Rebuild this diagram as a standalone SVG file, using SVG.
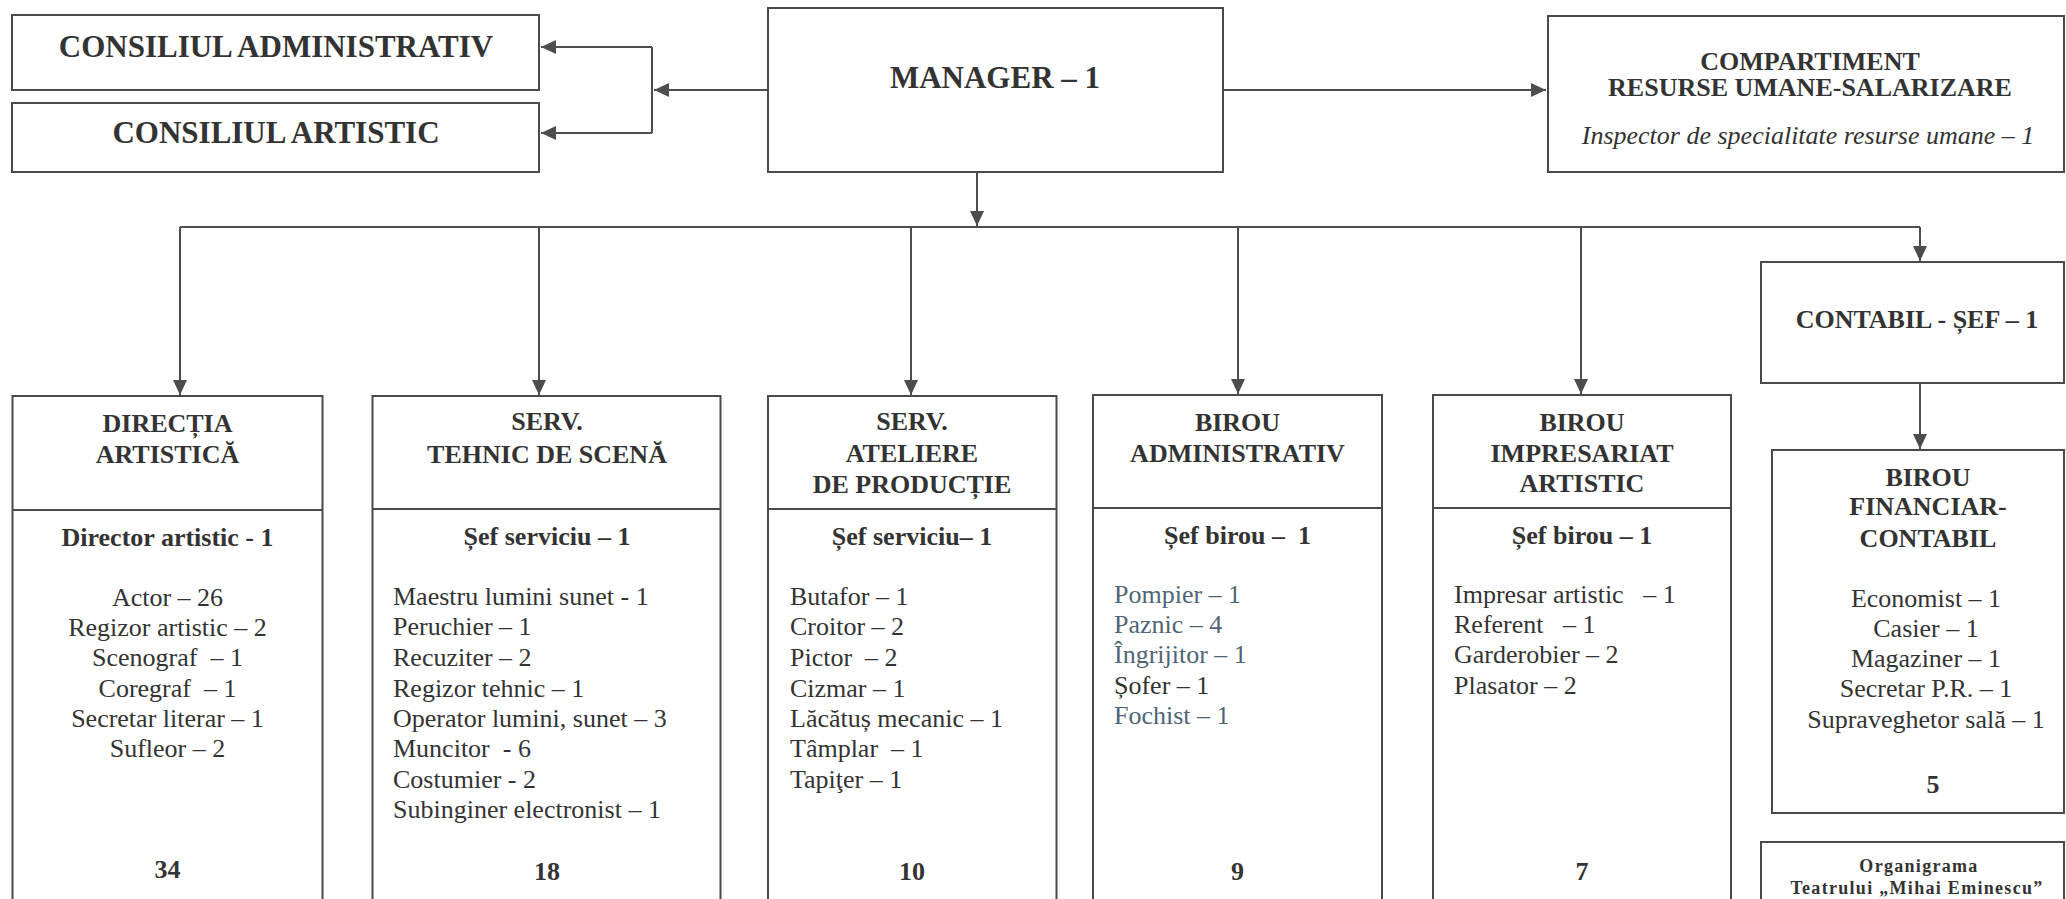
<svg xmlns="http://www.w3.org/2000/svg" width="2066" height="899" viewBox="0 0 2066 899">
<style>
  .box { fill: #ffffff; stroke: #4a4a4a; stroke-width: 2; }
  .div { stroke: #4a4a4a; stroke-width: 2; fill: none; }
  .con { stroke: #4d4d4d; stroke-width: 2; fill: none; }
  .arr { stroke: #4d4d4d; stroke-width: 2; fill: none; marker-end: url(#ah); }
  text { font-family: "Liberation Serif", "Times New Roman", serif; fill: #333333; white-space: pre; }
  .big { font-size: 31px; font-weight: bold; text-anchor: middle; }
  .hb { font-size: 26px; font-weight: bold; text-anchor: middle; }
  .r { font-size: 26px; }
  .rc { font-size: 26px; text-anchor: middle; }
  .it { font-size: 26px; font-style: italic; text-anchor: middle; }
  .org { font-size: 18px; font-weight: bold; text-anchor: middle; letter-spacing: 1.3px; }
  .blue { fill: #4f6577; }
</style>
<defs>
  <marker id="ah" markerUnits="userSpaceOnUse" markerWidth="16" markerHeight="14" refX="15" refY="7" orient="auto">
    <path d="M0,0 L15,7 L0,14 z" fill="#4d4d4d"/>
  </marker>
</defs>
<rect x="0" y="0" width="2066" height="899" fill="#ffffff"/>

<g id="connectors">
  <path class="arr" d="M768,90 L654,90"/>
  <path class="con" d="M652,47 L652,133"/>
  <path class="arr" d="M652,47 L541,47"/>
  <path class="arr" d="M652,133 L541,133"/>
  <path class="arr" d="M1223,90 L1546,90"/>
  <path class="arr" d="M977,172 L977,226"/>
  <path class="con" d="M180,227 L1920,227"/>
  <path class="arr" d="M180,227 L180,395"/>
  <path class="arr" d="M539,227 L539,395"/>
  <path class="arr" d="M911,227 L911,395"/>
  <path class="arr" d="M1238,227 L1238,394"/>
  <path class="arr" d="M1581,227 L1581,394"/>
  <path class="arr" d="M1920,227 L1920,261"/>
  <path class="arr" d="M1920,383 L1920,449"/>
</g>

<g id="consiliul-administrativ">
  <rect class="box" x="12" y="15" width="527" height="75"/>
  <text class="big" x="276" y="57">CONSILIUL ADMINISTRATIV</text>
</g>
<g id="consiliul-artistic">
  <rect class="box" x="12" y="103" width="527" height="69"/>
  <text class="big" x="276" y="143">CONSILIUL ARTISTIC</text>
</g>
<g id="manager">
  <rect class="box" x="768" y="8" width="455" height="164"/>
  <text class="big" x="995" y="88">MANAGER – 1</text>
</g>
<g id="compartiment">
  <rect class="box" x="1548" y="16" width="516" height="156"/>
  <text class="hb" x="1810" y="70">COMPARTIMENT</text>
  <text class="hb" x="1810" y="96">RESURSE UMANE-SALARIZARE</text>
  <text class="it" x="1808" y="144">Inspector de specialitate resurse umane – 1</text>
</g>

<g id="directia-artistica">
  <rect class="box" x="12.5" y="396" width="310" height="515"/>
  <line class="div" x1="12.5" y1="510" x2="322.5" y2="510"/>
  <text class="hb" x="167.5" y="432">DIRECȚIA</text>
  <text class="hb" x="167.5" y="463">ARTISTICĂ</text>
  <text class="hb" x="167.5" y="546">Director artistic - 1</text>
  <text class="rc" x="167.5" y="606">Actor – 26</text>
  <text class="rc" x="167.5" y="636">Regizor artistic – 2</text>
  <text class="rc" x="167.5" y="666">Scenograf  – 1</text>
  <text class="rc" x="167.5" y="697">Coregraf  – 1</text>
  <text class="rc" x="167.5" y="727">Secretar literar – 1</text>
  <text class="rc" x="167.5" y="757">Sufleor – 2</text>
  <text class="hb" x="167.5" y="878">34</text>
</g>

<g id="serv-tehnic">
  <rect class="box" x="372.5" y="396" width="348" height="515"/>
  <line class="div" x1="372.5" y1="509" x2="720.5" y2="509"/>
  <text class="hb" x="547" y="430">SERV.</text>
  <text class="hb" x="547" y="463">TEHNIC DE SCENĂ</text>
  <text class="hb" x="547" y="545">Șef serviciu – 1</text>
  <text class="r" x="393" y="605">Maestru lumini sunet - 1</text>
  <text class="r" x="393" y="635">Peruchier – 1</text>
  <text class="r" x="393" y="666">Recuziter – 2</text>
  <text class="r" x="393" y="697">Regizor tehnic – 1</text>
  <text class="r" x="393" y="727">Operator lumini, sunet – 3</text>
  <text class="r" x="393" y="757">Muncitor  - 6</text>
  <text class="r" x="393" y="788">Costumier - 2</text>
  <text class="r" x="393" y="818">Subinginer electronist – 1</text>
  <text class="hb" x="547" y="880">18</text>
</g>

<g id="serv-ateliere">
  <rect class="box" x="768" y="396" width="288.5" height="515"/>
  <line class="div" x1="768" y1="509" x2="1056.5" y2="509"/>
  <text class="hb" x="912" y="430">SERV.</text>
  <text class="hb" x="912" y="462">ATELIERE</text>
  <text class="hb" x="912" y="493">DE PRODUCȚIE</text>
  <text class="hb" x="912" y="545">Șef serviciu– 1</text>
  <text class="r" x="790" y="605">Butafor – 1</text>
  <text class="r" x="790" y="635">Croitor – 2</text>
  <text class="r" x="790" y="666">Pictor  – 2</text>
  <text class="r" x="790" y="697">Cizmar – 1</text>
  <text class="r" x="790" y="727">Lăcătuș mecanic – 1</text>
  <text class="r" x="790" y="757">Tâmplar  – 1</text>
  <text class="r" x="790" y="788">Tapiţer – 1</text>
  <text class="hb" x="912" y="880">10</text>
</g>

<g id="birou-administrativ">
  <rect class="box" x="1093" y="395" width="289" height="516"/>
  <line class="div" x1="1093" y1="508" x2="1382" y2="508"/>
  <text class="hb" x="1237.5" y="431">BIROU</text>
  <text class="hb" x="1237.5" y="462">ADMINISTRATIV</text>
  <text class="hb" x="1237.5" y="544">Șef birou –  1</text>
  <text class="r blue" x="1114" y="603">Pompier – 1</text>
  <text class="r blue" x="1114" y="633">Paznic – 4</text>
  <text class="r blue" x="1114" y="663">Îngrijitor – 1</text>
  <text class="r" x="1114" y="694">Șofer – 1</text>
  <text class="r blue" x="1114" y="724">Fochist – 1</text>
  <text class="hb" x="1237.5" y="880">9</text>
</g>

<g id="birou-impresariat">
  <rect class="box" x="1433" y="395" width="298" height="516"/>
  <line class="div" x1="1433" y1="508" x2="1731" y2="508"/>
  <text class="hb" x="1582" y="431">BIROU</text>
  <text class="hb" x="1582" y="462">IMPRESARIAT</text>
  <text class="hb" x="1582" y="492">ARTISTIC</text>
  <text class="hb" x="1582" y="544">Șef birou – 1</text>
  <text class="r" x="1454" y="603">Impresar artistic   – 1</text>
  <text class="r" x="1454" y="633">Referent   – 1</text>
  <text class="r" x="1454" y="663">Garderobier – 2</text>
  <text class="r" x="1454" y="694">Plasator – 2</text>
  <text class="hb" x="1582" y="880">7</text>
</g>

<g id="contabil-sef">
  <rect class="box" x="1761" y="262" width="303" height="121"/>
  <text class="hb" x="1917" y="328">CONTABIL - ȘEF – 1</text>
</g>

<g id="birou-financiar">
  <rect class="box" x="1772" y="450" width="292" height="363"/>
  <text class="hb" x="1928" y="486">BIROU</text>
  <text class="hb" x="1928" y="515">FINANCIAR-</text>
  <text class="hb" x="1928" y="547">CONTABIL</text>
  <text class="rc" x="1926" y="607">Economist – 1</text>
  <text class="rc" x="1926" y="637">Casier – 1</text>
  <text class="rc" x="1926" y="667">Magaziner – 1</text>
  <text class="rc" x="1926" y="697">Secretar P.R. – 1</text>
  <text class="rc" x="1926" y="728">Supraveghetor sală – 1</text>
  <text class="hb" x="1933" y="793">5</text>
</g>

<g id="organigrama">
  <rect class="box" x="1761" y="842" width="303" height="70"/>
  <text class="org" x="1919" y="872">Organigrama</text>
  <text class="org" x="1917" y="894">Teatrului „Mihai Eminescu”</text>
</g>
</svg>
